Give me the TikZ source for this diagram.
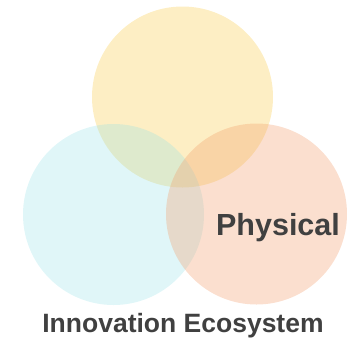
\documentclass[tikz,border=0pt]{standalone}
\usepackage{xcolor}
\usepackage{fontspec}
\setmainfont{Liberation Sans}
\definecolor{ideayellow}{RGB}{249,203,70}
\definecolor{ideacyan}{RGB}{142,224,230}
\definecolor{ideaorange}{RGB}{242,156,106}
\definecolor{labelgray}{RGB}{64,64,64}

\begin{document}
\begin{tikzpicture}[x=1pt,y=-1pt,
    ring/.style={opacity=0.32},
    label/.style={anchor=base,inner sep=0pt,text=labelgray,font=\bfseries}]
      \useasboundingbox (0,0) rectangle (364,341);
      \fill[ring,fill=ideayellow] (182.5,97) circle (90.5);
      \fill[ring,fill=ideacyan,opacity=0.28] (113.5,214.5) circle (90.5);
      \fill[ring,fill=ideaorange] (256.5,214) circle (90.5);
      \node[label,font=\bfseries\fontsize{30.5}{30.5}\selectfont] (physical) at (278,235) {Physical};
      \node[label,font=\bfseries\fontsize{26.5}{26.5}\selectfont] (ecosystem) at (183,332) {Innovation Ecosystem};
    \end{tikzpicture}
\end{document}
